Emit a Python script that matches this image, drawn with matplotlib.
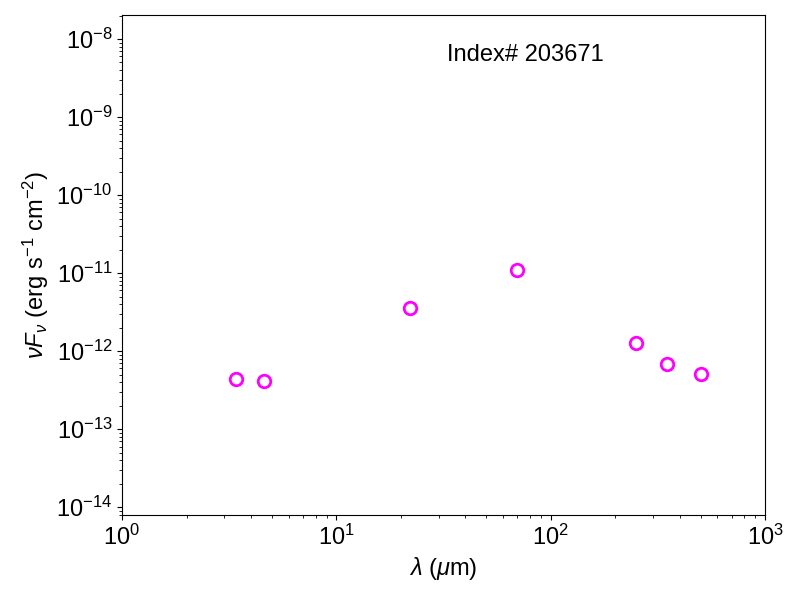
import numpy as np
import matplotlib
matplotlib.use('Agg')
import matplotlib.pyplot as plt

# SED photometry (WISE + PACS + SPIRE bands)
wavelength = [3.4, 4.6, 22.0, 70.0, 250.0, 350.0, 500.0]
nu_f_nu = [4.46e-13, 4.12e-13, 3.62e-12, 1.11e-11, 1.29e-12, 6.81e-13, 5.07e-13]
source_label = 'Index# 203671'

plt.rcParams['font.family'] = ['Liberation Sans', 'DejaVu Sans']
plt.rcParams['mathtext.fontset'] = 'custom'
plt.rcParams['mathtext.rm'] = 'Liberation Sans'
plt.rcParams['mathtext.it'] = 'Liberation Sans:italic'
plt.rcParams['mathtext.bf'] = 'Liberation Sans:bold'

fig = plt.figure(figsize=(8, 6), dpi=100)
ax = fig.add_axes([0.1525, 0.1417, 0.8038, 0.8333])

ax.plot(wavelength, nu_f_nu, 'o', mfc='none', mec='magenta', ms=9, mew=2)

ax.set_xscale('log')
ax.set_yscale('log')
ax.set_xlim(1, 1000)
ax.set_ylim(7.96e-15, 2.03e-8)

ax.set_xlabel(r'$\lambda$ ($\mu$m)', fontsize=17)
ax.set_ylabel(r'$\nu F_\nu$ (erg s$^{-1}$ cm$^{-2}$)', fontsize=17)
ax.tick_params(axis='both', which='major', labelsize=17)

ax.text(0.505, 0.92, source_label, transform=ax.transAxes, fontsize=17,
        ha='left', va='center')

plt.savefig('out.png', dpi=100)
